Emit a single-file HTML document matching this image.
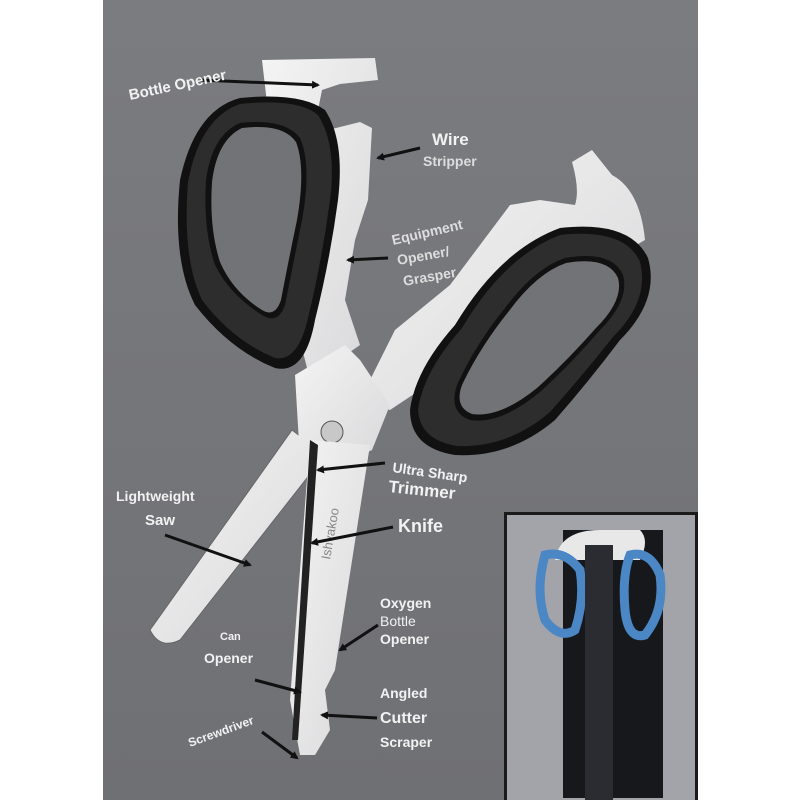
<!DOCTYPE html>
<html><head><style>
html,body{margin:0;padding:0;background:#fff;}
svg{display:block}
text{font-family:"Liberation Sans",sans-serif;font-weight:bold;fill:#f2f2f2}
</style></head><body>
<svg width="800" height="800" viewBox="0 0 800 800" xmlns="http://www.w3.org/2000/svg">
<defs>
<linearGradient id="bg" x1="0" y1="0" x2="0" y2="1"><stop offset="0" stop-color="#7b7c80"/><stop offset="1" stop-color="#6f7074"/></linearGradient>
<linearGradient id="steel" x1="0" y1="0" x2="1" y2="1"><stop offset="0" stop-color="#f4f4f4"/><stop offset="1" stop-color="#d8d8da"/></linearGradient>
<marker id="ar" markerWidth="8" markerHeight="8" refX="6" refY="4" orient="auto" markerUnits="userSpaceOnUse"><path d="M0,0 L8,4 L0,8 Z" fill="#111"/></marker>
</defs>
<rect x="103" y="0" width="595" height="800" fill="url(#bg)"/>
<!-- saw blade (back) -->
<path d="M292,430 L325,455 L180,640 Q160,650 150,630 Z" fill="url(#steel)" stroke="#666" stroke-width="1"/>
<!-- top-left blade -->
<path d="M262,60 L375,58 L378,80 L340,84 L322,90 L318,110 L328,130 L360,122 L372,128 L368,200 L355,240 L345,300 L360,345 L310,380 L290,300 Z" fill="url(#steel)"/>
<!-- left handle -->
<path d="M240,98 Q300,92 325,110 Q345,140 338,200 Q330,260 315,320 Q305,375 275,368 Q230,350 195,305 Q172,260 180,180 Q195,110 240,98 Z" fill="#111"/>
<path d="M240,104 Q298,98 318,115 Q337,145 330,200 Q322,260 308,318 Q298,362 275,358 Q232,340 202,300 Q182,258 188,182 Q200,118 240,104 Z" fill="#2d2d2e"/>
<path d="M240,123 Q285,118 300,138 Q312,165 302,220 Q292,270 285,305 Q278,325 262,315 Q230,295 215,265 Q203,230 206,180 Q212,135 240,123 Z" fill="#111"/>
<path d="M242,128 Q283,123 296,142 Q306,168 297,220 Q287,268 281,300 Q275,318 262,310 Q233,292 220,262 Q209,228 212,182 Q217,140 242,128 Z" fill="#727377"/>
<!-- right blade -->
<path d="M572,162 L592,150 L612,175 Q640,190 645,240 L610,260 L520,290 L470,330 L420,390 L390,410 L360,400 L395,330 L450,285 L510,205 L540,200 L575,205 Q580,190 572,162 Z" fill="url(#steel)"/>
<!-- right handle -->
<path d="M560,228 Q630,220 648,258 Q660,300 620,340 Q590,380 555,420 Q510,458 455,455 Q410,448 410,410 Q415,370 455,325 Q500,250 560,228 Z" fill="#111"/>
<path d="M560,235 Q625,228 640,262 Q650,300 613,337 Q583,375 550,412 Q508,448 457,446 Q420,440 418,410 Q423,372 462,328 Q505,256 560,235 Z" fill="#2d2d2e"/>
<path d="M565,258 Q612,250 623,275 Q630,300 600,330 Q570,365 540,392 Q500,425 470,420 Q448,412 457,385 Q475,345 505,308 Q535,268 565,258 Z" fill="#111"/>
<path d="M566,263 Q608,256 618,278 Q624,300 596,328 Q566,362 537,388 Q500,418 472,414 Q454,407 462,385 Q480,347 509,311 Q537,273 566,263 Z" fill="#727377"/>
<!-- pivot area -->
<path d="M295,375 L345,345 L360,360 L390,405 L372,450 L330,470 L300,460 Z" fill="url(#steel)"/>
<circle cx="332" cy="432" r="11" fill="#c8c8c8" stroke="#555"/>
<!-- main long blade -->
<path d="M310,440 L370,445 L335,670 L325,690 L330,730 L315,755 L300,755 L290,700 Z" fill="url(#steel)"/>
<path d="M310,440 L318,445 L298,740 L292,740 Z" fill="#222"/>
<text x="330" y="560" transform="rotate(-80 330 560)" style="font-size:13px;fill:#888;font-weight:normal">Ishvakoo</text>
<!-- inset -->
<rect x="504" y="512" width="194" height="288" fill="#1b1b1c"/>
<rect x="507" y="515" width="188" height="285" fill="#a3a4a9"/>
<rect x="563" y="530" width="100" height="268" fill="#17181b"/>
<path d="M555,560 Q560,530 600,530 L640,530 Q650,540 640,560 Z" fill="#e8e8e8"/>
<path d="M545,555 Q565,550 580,570 Q585,600 575,630 Q560,640 545,620 Q535,590 545,555 Z" fill="none" stroke="#4a87c4" stroke-width="9"/>
<path d="M630,555 Q650,550 660,575 Q665,610 645,635 Q628,640 625,610 Q622,575 630,555 Z" fill="none" stroke="#4a87c4" stroke-width="9"/>
<rect x="585" y="545" width="28" height="255" fill="#2a2c31"/>
<!-- arrows -->
<g stroke="#111" stroke-width="3" fill="none" marker-end="url(#ar)">
<line x1="200" y1="80" x2="318" y2="85"/>
<line x1="420" y1="148" x2="378" y2="158"/>
<line x1="388" y1="258" x2="348" y2="260"/>
<line x1="385" y1="463" x2="318" y2="470"/>
<line x1="393" y1="527" x2="312" y2="543"/>
<line x1="165" y1="535" x2="250" y2="565"/>
<line x1="378" y1="625" x2="340" y2="650"/>
<line x1="255" y1="680" x2="300" y2="692"/>
<line x1="377" y1="718" x2="322" y2="715"/>
<line x1="262" y1="732" x2="297" y2="758"/>
</g>
<!-- labels -->
<text x="130" y="100" transform="rotate(-12 130 100)" style="font-size:15px">Bottle Opener</text>
<text x="432" y="145" style="font-size:17px">Wire</text>
<text x="423" y="166" style="font-size:14px;fill:#ddd">Stripper</text>
<text x="393" y="245" transform="rotate(-13 393 245)" style="font-size:14px;fill:#ddd">Equipment</text>
<text x="398" y="265" transform="rotate(-10 398 265)" style="font-size:14px;fill:#ddd">Opener/</text>
<text x="404" y="286" transform="rotate(-10 404 286)" style="font-size:14px;fill:#ddd">Grasper</text>
<text x="392" y="472" transform="rotate(8 392 472)" style="font-size:14px">Ultra Sharp</text>
<text x="388" y="492" transform="rotate(6 388 492)" style="font-size:17px">Trimmer</text>
<text x="398" y="532" style="font-size:18px">Knife</text>
<text x="116" y="501" style="font-size:14px">Lightweight</text>
<text x="145" y="525" style="font-size:15px">Saw</text>
<text x="380" y="608" style="font-size:14px">Oxygen</text>
<text x="380" y="626" style="font-size:14px;font-weight:normal">Bottle</text>
<text x="380" y="644" style="font-size:14px">Opener</text>
<text x="220" y="640" style="font-size:11px">Can</text>
<text x="204" y="663" style="font-size:14px">Opener</text>
<text x="380" y="698" style="font-size:14px">Angled</text>
<text x="380" y="723" style="font-size:16px">Cutter</text>
<text x="380" y="747" style="font-size:14px">Scraper</text>
<text x="190" y="747" transform="rotate(-20 190 747)" style="font-size:12px">Screwdriver</text>
</svg>
</body></html>
